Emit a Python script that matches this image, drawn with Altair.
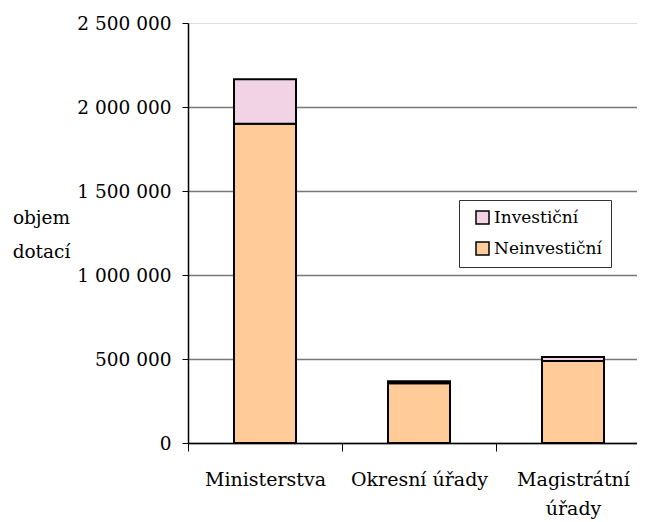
import altair as alt
import pandas as pd

categories = ["Ministerstva", "Okresní úřady", "Magistrátní úřady"]
neinvesticni = [1900000, 355000, 488000]
investicni = [265000, 12000, 24000]
series = ["Investiční", "Neinvestiční"]
y_ticks = [0, 500000, 1000000, 1500000, 2000000, 2500000]

rows = []
for c, n, i in zip(categories, neinvesticni, investicni):
    rows.append({"kategorie": c, "typ": "Neinvestiční", "hodnota": n, "poradi": 0})
    rows.append({"kategorie": c, "typ": "Investiční", "hodnota": i, "poradi": 1})
df = pd.DataFrame(rows)

FONT = "DejaVu Serif"

chart = alt.Chart(df).mark_bar(size=62, stroke="black", strokeWidth=2).encode(
    x=alt.X(
        "kategorie:N",
        sort=categories,
        scale=alt.Scale(range=[0, 462], paddingInner=0, paddingOuter=0),
        axis=alt.Axis(
            title=None,
            labelAngle=0,
            labelFont=FONT,
            labelFontSize=19,
            labelColor="black",
            labelPadding=19,
            labelLineHeight=29,
            labelExpr="datum.label == 'Magistrátní úřady' ? ['Magistrátní', 'úřady'] : datum.label",
            tickBand="extent",
            tickSize=8,
            tickColor="black",
            domainColor="black",
            domainWidth=1.5,
            grid=False,
        ),
    ),
    y=alt.Y(
        "hodnota:Q",
        stack="zero",
        scale=alt.Scale(domain=[0, 2500000], nice=False),
        axis=alt.Axis(
            values=y_ticks,
            title=["objem", "dotací"],
            titleAngle=0,
            titleFont=FONT,
            titleFontSize=18.5,
            titleFontWeight="normal",
            titleColor="black",
            titleAlign="center",
            titleBaseline="alphabetic",
            titleX=-147,
            titleY=200,
            titleLineHeight=34,
            labelFont=FONT,
            labelFontSize=18.5,
            labelColor="black",
            labelPadding=11,
            labelExpr="replace(format(datum.value, ','), regexp(',', 'g'), ' ')",
            tickSize=6,
            tickColor="black",
            domainColor="black",
            domainWidth=1.5,
            grid=True,
            gridColor={"condition": {"test": "datum.value >= 2500000", "value": "transparent"}, "value": "#777777"},
            gridWidth=1.5,
        ),
    ),
    color=alt.Color(
        "typ:N",
        scale=alt.Scale(domain=series, range=["#F2D3E6", "#FFCC99"]),
        legend=alt.Legend(
            title=None,
            orient="none",
            legendX=271,
            legendY=177,
            strokeColor="#333333",
            padding=9,
            symbolType="square",
            symbolSize=169,
            symbolStrokeColor="black",
            symbolStrokeWidth=1.5,
            symbolOffset=6,
            labelOffset=3,
            labelFont=FONT,
            labelFontSize=17,
            labelColor="black",
            rowPadding=12,
        ),
    ),
    order=alt.Order("poradi:Q"),
).properties(
    width=449,
    height=420,
    autosize=alt.AutoSizeParams(type="none"),
    padding={"left": 180, "top": 15, "right": 0, "bottom": 79},
).configure_view(stroke=None).configure(background="white")

chart.save("out.html", embed_options={"renderer": "svg", "actions": False})
